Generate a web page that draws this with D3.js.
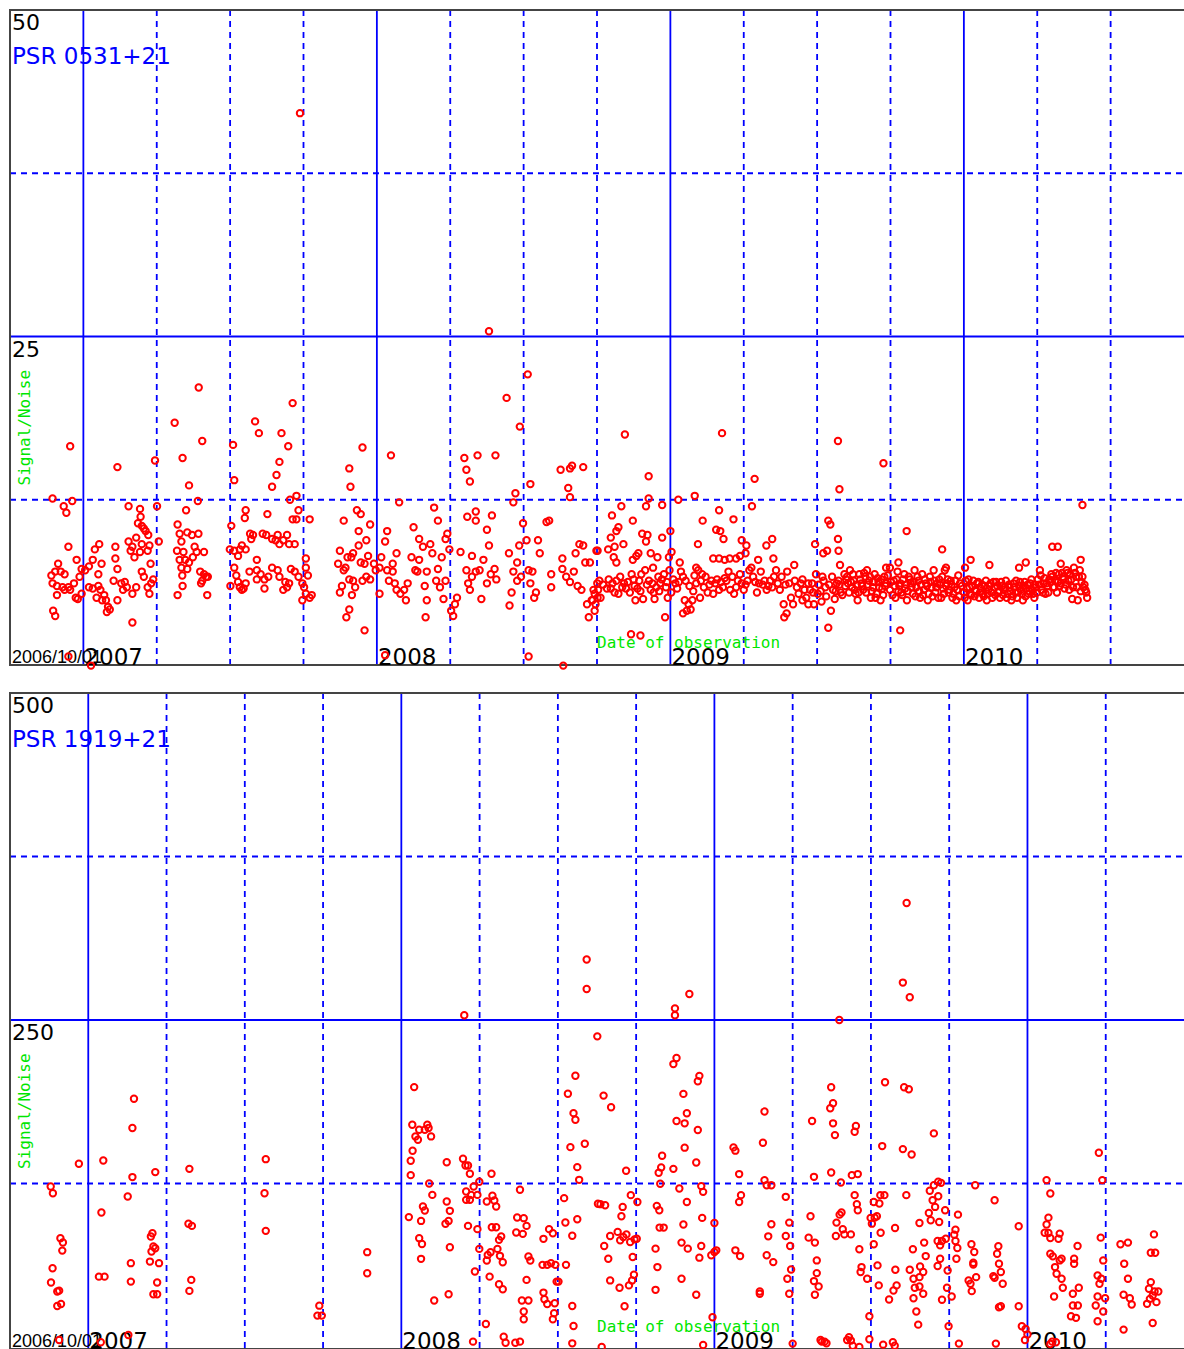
<!DOCTYPE html>
<html>
<head>
<meta charset="utf-8">
<script src="https://cdn.jsdelivr.net/npm/d3@7"></script>
<style>
  body { margin: 0; background: #fff; }
  svg { display: block; }
</style>
</head>
<body>
<script>
// observations as [decimal year, signal/noise]
const psr0531 = [
  [2006.895,12.6],[2006.933,12.0],[2006.942,11.5],[2006.962,12.4],[2006.955,16.6],[2006.949,8.9],[2006.977,7.9],
  [2006.914,7.6],[2006.891,6.7],[2006.904,7.0],[2006.923,7.0],[2006.936,6.8],[2006.895,6.1],[2006.910,5.9],
  [2006.929,5.8],[2006.949,5.8],[2006.968,6.1],[2006.987,6.6],[2006.994,7.2],[2006.910,5.2],[2006.936,5.6],
  [2006.955,5.6],[2006.981,4.9],[2006.974,5.0],[2006.994,5.3],[2006.897,4.0],[2006.904,3.6],[2006.949,0.5],
  [2007.026,-0.2],
  [2007.006,7.1],[2007.019,7.4],[2007.032,7.9],[2007.039,8.7],[2007.054,9.1],[2007.062,7.6],[2007.051,6.8],
  [2007.019,5.8],[2007.032,5.7],[2007.051,5.9],[2007.058,5.6],[2007.071,5.2],[2007.077,4.8],[2007.084,4.3],
  [2007.080,3.9],[2007.090,4.1],[2007.064,4.8],[2007.045,5.0],[2007.103,6.3],[2007.116,7.2],[2007.109,8.0],
  [2007.109,8.9],[2007.116,15.0],[2007.129,6.1],[2007.141,6.2],[2007.135,5.6],[2007.116,4.8],[2007.154,9.3],
  [2007.161,8.6],[2007.167,8.9],[2007.174,8.1],[2007.154,12.0],[2007.167,3.1],[2007.180,9.6],[2007.186,10.7],
  [2007.193,11.8],[2007.195,11.2],[2007.199,10.5],[2007.206,10.3],[2007.212,10.1],[2007.221,9.8],[2007.199,9.1],
  [2007.193,8.5],[2007.219,8.6],[2007.225,9.0],[2007.229,7.6],[2007.199,7.0],[2007.206,6.6],[2007.219,5.8],
  [2007.225,5.3],[2007.238,6.4],[2007.231,6.1],[2007.244,15.5],[2007.251,12.0],[2007.257,9.3],[2007.180,5.8],
  [2007.167,5.3],[2007.148,5.8],
  [2007.311,18.4],[2007.338,15.7],[2007.360,13.6],[2007.350,11.7],[2007.321,10.6],[2007.328,9.9],[2007.319,8.6],
  [2007.334,9.3],[2007.341,8.5],[2007.347,7.9],[2007.360,7.7],[2007.373,8.1],[2007.379,8.9],[2007.392,9.9],
  [2007.354,10.0],[2007.370,9.8],[2007.386,8.5],[2007.411,8.5],[2007.328,7.9],[2007.334,7.3],[2007.354,7.2],
  [2007.337,6.7],[2007.338,5.9],[2007.321,5.2],[2007.393,21.1],[2007.405,17.0],[2007.390,12.4],[2007.398,7.0],
  [2007.411,6.8],[2007.418,6.6],[2007.405,6.3],[2007.424,6.6],[2007.401,6.1],[2007.422,5.2],
  [2007.510,16.7],[2007.514,14.0],[2007.504,10.5],[2007.499,8.7],[2007.514,8.6],[2007.527,8.2],[2007.533,8.7],
  [2007.540,9.0],[2007.553,8.7],[2007.550,11.1],[2007.553,11.7],[2007.572,9.5],[2007.568,9.9],[2007.578,9.8],
  [2007.585,18.5],[2007.598,17.6],[2007.591,7.9],[2007.566,7.0],[2007.514,7.3],[2007.521,6.7],[2007.527,6.2],
  [2007.501,5.9],[2007.533,5.8],[2007.540,5.6],[2007.546,5.7],[2007.553,6.1],[2007.591,7.1],[2007.604,6.8],
  [2007.617,6.4],[2007.630,6.6],[2007.591,6.4],[2007.617,5.7],[2007.643,7.3],[2007.643,13.5],[2007.658,14.4],
  [2007.668,15.4],[2007.675,17.6],[2007.698,16.6],[2007.713,19.9],[2007.704,12.5],[2007.726,12.8],[2007.733,11.7],
  [2007.713,11.0],[2007.726,11.0],[2007.627,11.4],[2007.611,9.9],[2007.623,9.8],[2007.643,9.5],[2007.655,9.4],
  [2007.662,9.8],[2007.668,9.1],[2007.681,9.4],[2007.694,9.8],[2007.701,9.1],[2007.720,9.1],[2007.662,7.1],
  [2007.668,6.6],[2007.688,6.2],[2007.694,5.8],[2007.681,5.6],[2007.707,7.2],[2007.720,7.0],[2007.733,6.6],
  [2007.746,6.1],[2007.758,8.0],[2007.758,7.3],[2007.765,6.7],[2007.771,11.0],[2007.752,5.8],[2007.758,5.3],
  [2007.746,4.8],[2007.771,5.0],[2007.778,5.2],[2007.701,6.1],[2007.738,42.1],
  [2007.868,7.6],[2007.874,8.6],[2007.881,5.9],[2007.874,5.4],[2007.887,10.9],[2007.906,14.9],[2007.910,13.5],
  [2007.896,3.5],[2007.906,4.1],[2007.887,7.1],[2007.893,7.3],[2007.900,8.1],[2007.913,8.1],[2007.919,8.4],
  [2007.906,6.4],[2007.919,6.3],[2007.926,5.8],[2007.915,5.2],[2007.932,11.7],[2007.945,11.4],[2007.951,16.5],
  [2007.938,10.1],[2007.938,9.0],[2007.964,9.4],[2007.977,10.6],[2007.970,8.2],[2007.958,7.6],[2007.945,7.7],
  [2007.951,6.3],[2007.964,6.6],[2007.977,6.4],[2007.990,7.6],[2007.996,7.1],[2007.958,2.5],[2008.009,7.3],
  [2008.028,0.6],[2008.009,5.3],[2008.015,8.1],[2008.028,9.3],[2008.035,10.1],[2008.048,15.9],[2008.076,12.3],
  [2008.035,7.1],[2008.041,6.3],[2008.054,7.6],[2008.067,8.4],[2008.054,7.0],[2008.061,6.1],[2008.067,5.6],
  [2008.080,5.3],[2008.093,5.6],[2008.099,4.8],[2008.105,6.1],[2008.118,8.1],[2008.125,10.4],[2008.131,7.1],
  [2008.138,7.0],[2008.144,7.9],[2008.144,9.5],[2008.157,8.9],[2008.163,5.9],[2008.170,7.0],[2008.170,4.8],
  [2008.166,3.5],[2008.182,9.1],[2008.189,8.4],[2008.195,11.9],[2008.208,10.9],[2008.202,6.3],[2008.208,7.2],
  [2008.215,5.8],[2008.221,8.1],[2008.227,4.9],[2008.234,9.5],[2008.240,9.9],[2008.247,8.7],[2008.234,6.3],
  [2008.253,4.0],[2008.260,3.6],[2008.266,4.5],[2008.273,5.0],[2008.285,8.5],[2008.298,15.7],[2008.305,14.8],
  [2008.317,13.9],[2008.308,11.2],[2008.337,11.6],[2008.337,10.9],[2008.343,15.9],[2008.324,8.2],[2008.305,7.1],
  [2008.311,6.1],[2008.324,6.6],[2008.337,7.0],[2008.350,7.1],[2008.363,7.9],[2008.317,5.6],[2008.356,4.9],
  [2008.375,10.2],[2008.382,9.0],[2008.392,11.3],[2008.375,6.1],[2008.388,6.8],[2008.401,7.2],[2008.407,6.4],
  [2008.404,15.9],[2008.442,20.3],[2008.487,18.1],[2008.514,22.1],[2008.472,13.0],[2008.465,12.3],[2008.498,10.7],
  [2008.510,9.4],[2008.485,9.0],[2008.450,8.4],[2008.478,7.7],[2008.465,7.0],[2008.478,6.3],[2008.491,6.6],
  [2008.459,5.4],[2008.452,4.4],[2008.517,7.1],[2008.523,6.1],[2008.530,7.0],[2008.549,9.4],[2008.555,8.4],
  [2008.542,5.4],[2008.536,5.0],[2008.523,13.7],[2008.517,0.5],[2008.578,10.8],[2008.587,10.9],[2008.594,6.8],
  [2008.594,5.8],[2008.626,14.8],[2008.658,14.9],[2008.665,15.1],[2008.703,15.0],[2008.652,13.4],[2008.658,12.7],
  [2008.632,8.0],[2008.632,7.2],[2008.645,6.6],[2008.658,6.2],[2008.671,7.0],[2008.677,8.4],[2008.690,9.1],
  [2008.703,9.0],[2008.710,7.7],[2008.684,5.9],[2008.697,5.6],[2008.716,4.5],[2008.722,3.5],[2008.735,4.8],
  [2008.748,8.6],[2008.751,6.1],[2008.742,5.3],[2008.635,-0.2],[2008.382,25.4],
  [2008.845,17.5],[2009.176,17.6],[2008.926,14.3],[2009.287,14.1],[2009.571,17.0],[2009.576,13.3],[2009.726,15.3],
  [2008.926,12.6],[2009.027,12.5],[2009.083,12.8],[2008.972,12.1],[2008.917,12.0],[2008.833,12.0],[2009.278,12.0],
  [2009.166,11.7],[2008.801,11.3],[2010.404,12.1],[2009.215,11.0],[2009.110,10.9],[2008.872,10.9],[2009.538,10.9],
  [2009.545,10.6],[2008.823,10.4],[2008.816,10.1],[2009.156,10.2],[2009.170,10.1],[2009.000,10.1],[2009.805,10.1],
  [2008.904,9.9],[2008.922,9.8],[2008.972,9.6],[2008.797,9.6],[2008.917,9.3],[2009.181,9.5],[2009.243,9.4],
  [2009.571,9.5],[2009.347,9.5],[2008.840,9.1],[2009.094,9.1],[2009.493,9.1],[2009.259,9.0],[2009.327,9.0],
  [2008.752,8.6],[2008.788,8.7],[2008.810,8.9],[2009.521,8.4],[2009.534,8.6],[2009.573,8.6],[2009.926,8.7],
  [2010.301,8.9],[2010.320,8.9],[2008.933,8.4],[2008.891,8.4],[2008.884,8.2],[2009.004,8.5],[2008.956,8.1],
  [2008.807,8.1],[2008.995,8.1],[2009.146,8.0],[2009.166,8.0],[2009.185,7.9],[2009.202,8.0],[2009.224,8.0],
  [2009.237,8.2],[2009.256,8.4],[2009.351,8.0],[2008.872,7.9],[2008.816,7.7],[2009.032,7.7],[2009.299,7.9],
  [2010.023,7.9],[2009.777,7.7],[2010.087,7.5],[2010.188,7.3],[2010.211,7.7],[2010.330,7.6],[2010.398,7.9],
  [2009.422,7.5],[2009.578,7.5],[2009.735,7.3],[2009.748,7.3],[2009.939,7.3],[2010.004,7.3],[2008.941,7.3],
  [2009.088,7.3],[2008.726,7.7],[2008.866,2.2],[2008.898,2.1],
  [2008.732,4.8],[2008.742,4.0],[2008.745,4.5],[2008.752,5.0],[2008.754,5.6],[2008.758,6.3],[2008.784,5.7],
  [2008.797,5.7],[2008.810,5.4],[2008.816,6.3],[2008.829,6.6],[2008.842,6.1],[2008.849,5.7],[2008.855,6.2],
  [2008.868,6.8],[2008.875,6.4],[2008.881,4.8],[2008.888,5.7],[2008.894,6.3],[2008.901,6.8],[2008.907,4.9],
  [2008.914,7.1],[2008.927,6.3],[2008.933,5.6],[2008.939,6.1],[2008.946,4.9],[2008.952,5.8],[2008.959,6.6],
  [2008.965,6.1],[2008.978,6.8],[2008.985,5.8],[2008.991,5.0],[2008.997,7.1],[2008.982,3.5],[2009.017,6.1],
  [2009.023,5.7],[2009.036,7.0],[2009.043,6.6],[2009.049,4.8],[2009.056,4.0],[2009.062,4.5],[2009.069,4.1],
  [2009.043,3.8],[2009.075,4.8],[2009.082,6.7],[2009.088,6.1],[2009.095,7.1],[2009.101,5.0],[2009.108,6.8],
  [2009.114,5.8],[2009.140,6.3],[2009.146,5.3],[2009.153,6.1],[2009.166,5.6],[2009.172,6.2],[2009.179,5.8],
  [2009.191,6.3],[2009.198,7.0],[2009.204,5.6],[2009.211,6.6],[2009.217,5.3],[2009.230,6.3],[2009.243,6.1],
  [2009.250,5.6],[2009.263,6.3],[2009.269,7.1],[2009.276,7.3],[2009.282,6.6],[2009.295,5.4],[2009.302,6.1],
  [2009.308,7.0],[2009.321,6.3],[2009.328,5.6],[2009.334,5.9],[2009.340,6.3],[2009.347,5.8],[2009.360,7.1],
  [2009.366,6.1],[2009.373,5.6],[2009.379,6.6],[2009.386,4.5],[2009.388,3.5],[2009.396,3.8],[2009.398,7.0],
  [2009.405,6.1],[2009.411,5.0],[2009.418,4.5],[2009.424,6.3],[2009.431,5.8],[2009.437,5.3],[2009.444,6.1],
  [2009.450,4.8],[2009.457,5.6],[2009.463,5.0],[2009.470,4.5],[2009.476,5.6],[2009.483,6.1],[2009.489,4.5],
  [2009.496,6.8],[2009.502,5.3],[2009.515,4.7],[2009.522,6.3],[2009.528,5.8],[2009.538,2.7],[2009.547,4.0],
  [2009.554,5.6],[2009.560,4.9],[2009.567,6.1],[2009.573,6.3],[2009.580,5.4],[2009.593,6.8],[2009.599,6.4],
  [2009.605,6.1],[2009.612,7.1],[2009.619,5.8],[2009.625,6.3],[2009.631,5.3],[2009.638,4.8],[2009.644,6.8],
  [2009.651,6.1],[2009.657,5.6],[2009.664,6.6],[2009.670,7.1],[2009.677,6.3],[2009.683,5.0],[2009.690,5.8],
  [2009.696,6.8],[2009.703,5.3],[2009.709,6.2],[2009.716,4.8],[2009.722,5.7],[2009.729,6.6],[2009.735,6.1],
  [2009.748,5.6],[2009.761,6.3],[2009.767,5.0],[2009.774,7.0],[2009.780,5.9],[2009.787,5.4],[2009.793,6.4],
  [2009.800,5.7],[2009.806,4.8],[2009.812,6.6],[2009.819,6.1],[2009.826,5.3],[2009.832,7.1],[2009.838,5.8],
  [2009.845,6.3],[2009.851,5.0],[2009.858,6.8],[2009.864,5.6],[2009.871,6.1],[2009.877,4.8],[2009.884,6.6],
  [2009.890,5.8],[2009.897,7.1],[2009.903,5.4],[2009.910,6.1],[2009.916,6.4],[2009.923,5.0],[2009.929,5.7],
  [2009.935,7.1],[2009.942,6.1],[2009.948,5.4],[2009.955,6.3],[2009.961,5.0],[2009.968,5.8],[2009.974,4.8],
  [2009.981,6.7],[2009.987,6.1],[2010.000,5.4],[2010.006,6.3],[2010.013,4.8],[2010.019,5.8],[2010.026,5.2],
  [2010.032,6.3],[2010.039,5.6],[2010.045,6.1],[2010.052,5.0],[2010.058,5.7],[2010.065,5.3],[2010.071,5.9],
  [2010.078,4.8],[2010.084,5.6],[2010.091,6.1],[2010.097,5.0],[2010.104,5.8],[2010.110,6.2],[2010.117,5.4],
  [2010.123,5.0],[2010.130,5.9],[2010.136,5.6],[2010.143,6.3],[2010.149,5.3],[2010.156,5.8],[2010.162,4.8],
  [2010.169,6.1],[2010.175,5.4],[2010.181,5.0],[2010.188,5.9],[2010.194,5.6],[2010.201,4.8],[2010.207,6.2],
  [2010.214,5.7],[2010.220,5.3],[2010.226,6.1],[2010.233,5.6],[2010.240,5.0],[2010.246,5.8],[2010.252,6.4],
  [2010.259,7.1],[2010.265,5.6],[2010.272,6.1],[2010.278,5.3],[2010.285,5.9],[2010.291,6.4],[2010.298,6.8],
  [2010.304,5.8],[2010.311,6.3],[2010.317,5.4],[2010.324,6.8],[2010.330,6.1],[2010.337,6.6],[2010.343,5.7],
  [2010.350,7.1],[2010.356,6.3],[2010.362,6.8],[2010.369,4.9],[2010.375,7.3],[2010.382,6.6],[2010.388,4.8],
  [2010.395,7.1],[2010.401,6.2],[2010.407,5.8],[2010.414,5.6],[2010.420,5.0],[2009.783,2.5],
  [2008.738,5.6],[2008.762,5.0],[2008.771,6.0],[2008.790,6.4],[2008.803,6.1],[2008.823,5.3],[2008.836,5.8],
  [2008.862,5.4],[2008.878,5.9],[2008.898,5.5],[2008.920,6.0],[2008.943,5.4],[2008.962,5.5],[2008.971,6.4],
  [2008.988,6.2],[2009.003,5.4],[2009.010,6.4],[2009.029,6.2],[2009.052,6.3],[2009.065,5.9],[2009.078,5.5],
  [2009.104,6.3],[2009.120,6.6],[2009.127,5.4],[2009.133,6.0],[2009.159,6.4],[2009.185,6.5],[2009.224,5.8],
  [2009.237,6.8],[2009.256,6.0],[2009.289,6.2],[2009.315,6.0],[2009.353,6.6],[2009.392,6.0],[2009.450,6.4],
  [2009.470,6.1],[2009.486,5.4],
  [2009.505,6.0],[2009.512,5.5],[2009.518,6.6],[2009.531,5.1],[2009.541,6.0],[2009.551,6.6],[2009.563,5.5],
  [2009.576,6.0],[2009.586,5.2],[2009.596,5.9],[2009.602,6.6],[2009.609,5.4],[2009.615,6.2],[2009.622,6.8],
  [2009.628,5.6],[2009.634,6.0],[2009.641,5.4],[2009.647,6.4],[2009.654,5.9],[2009.660,6.9],[2009.667,5.4],
  [2009.673,6.0],[2009.680,6.6],[2009.686,5.5],[2009.693,6.2],[2009.699,5.0],[2009.706,6.5],[2009.712,5.8],
  [2009.719,6.4],[2009.725,5.2],[2009.732,5.9],[2009.741,6.7],[2009.751,6.2],[2009.757,5.2],[2009.764,5.9],
  [2009.771,6.4],[2009.777,5.5],[2009.784,6.1],[2009.790,5.2],[2009.797,6.8],[2009.803,6.0],[2009.809,5.5],
  [2009.816,6.4],[2009.822,5.8],[2009.829,6.2],[2009.835,5.1],[2009.842,6.6],[2009.848,5.5],[2009.854,6.0],
  [2009.861,5.2],[2009.867,6.4],[2009.874,5.9],[2009.880,5.3],[2009.887,6.2],[2009.893,5.1],[2009.900,6.3],
  [2009.906,5.8],[2009.913,5.0],[2009.919,6.0],[2009.926,6.6],[2009.932,5.3],[2009.939,5.9],[2009.945,6.4],
  [2009.951,5.6],[2009.958,6.0],[2009.964,5.3],[2009.971,6.3],[2009.977,5.6],[2009.984,5.1],[2009.993,5.9],
  [2010.003,5.0],[2010.010,5.7],[2010.016,6.4],[2010.023,5.3],[2010.029,5.9],[2010.036,5.1],[2010.042,5.5],
  [2010.049,6.2],[2010.055,5.4],[2010.062,6.0],[2010.068,5.1],[2010.075,6.3],[2010.081,5.3],[2010.088,5.9],
  [2010.094,5.4],[2010.101,6.2],[2010.107,5.2],[2010.114,5.9],[2010.120,5.5],[2010.127,6.2],[2010.133,5.2],
  [2010.140,5.8],[2010.146,5.0],[2010.153,6.0],[2010.159,5.5],[2010.166,5.1],[2010.172,5.8],[2010.178,6.3],
  [2010.185,5.4],[2010.191,6.2],[2010.198,5.3],[2010.204,5.9],[2010.210,5.1],[2010.217,6.0],[2010.223,5.5],
  [2010.230,6.4],[2010.236,5.3],[2010.243,6.0],[2010.249,5.4],[2010.256,6.0],[2010.262,6.7],[2010.269,5.4],
  [2010.275,6.5],[2010.282,6.1],[2010.288,5.4],[2010.295,6.2],[2010.301,6.6],[2010.308,5.8],[2010.314,6.9],
  [2010.321,6.2],[2010.327,5.9],[2010.334,6.9],[2010.340,6.4],[2010.347,6.0],[2010.353,6.9],[2010.359,5.6],
  [2010.366,6.4],[2010.372,5.8],[2010.379,6.9],[2010.385,5.8],[2010.392,6.6],[2010.398,5.5],[2010.404,6.6],
  [2010.411,6.0],[2010.417,5.4]
];

const psr1919 = [
  [2006.880,122.7],[2006.887,117.6],[2006.911,83.2],[2006.919,79.9],[2006.917,73.7],[2006.886,60.2],[2006.881,49.3],
  [2006.901,42.4],[2006.907,43.1],[2006.901,31.4],[2006.913,32.9],[2006.907,5.4],[2006.970,140.1],[2007.048,142.6],
  [2007.042,102.8],[2007.034,53.8],[2007.052,53.8],[2007.040,3.6],[2007.146,189.8],[2007.141,167.4],[2007.141,129.9],
  [2007.126,115.1],[2007.136,64.1],[2007.136,50.0],[2007.128,9.2],[2007.214,133.7],[2007.200,84.5],[2007.205,87.0],
  [2007.208,76.8],[2007.202,73.0],[2007.214,75.5],[2007.197,65.3],[2007.226,64.1],[2007.220,49.3],[2007.208,40.3],
  [2007.220,40.3],[2007.323,136.2],[2007.320,94.2],[2007.331,92.6],[2007.329,51.3],[2007.323,42.9],[2007.567,143.6],
  [2007.563,117.6],[2007.567,88.8],[2007.738,31.6],[2007.732,24.0],[2007.746,24.0],[2007.891,72.5],[2007.891,56.4],
  [2008.041,198.7],[2008.035,169.9],[2008.057,166.1],[2008.045,161.0],[2008.053,158.4],[2008.075,166.1],[2008.083,169.9],
  [2008.087,167.4],[2008.095,161.0],[2008.036,150.0],[2008.030,142.4],[2008.030,131.4],[2008.089,125.0],[2008.099,116.3],
  [2008.024,99.3],[2008.063,96.4],[2008.069,107.4],[2008.075,104.4],[2008.057,83.2],[2008.066,78.8],[2008.063,67.4],
  [2008.105,35.5],[2008.145,141.3],[2008.145,111.2],[2008.155,104.1],[2008.151,96.4],[2008.141,94.2],[2008.155,76.3],
  [2008.151,40.3],[2008.197,143.9],[2008.205,138.8],[2008.213,138.8],[2008.219,132.4],[2008.249,126.3],[2008.231,122.7],
  [2008.207,118.9],[2008.223,116.3],[2008.243,116.3],[2008.207,112.5],[2008.219,112.5],[2008.213,92.6],[2008.243,90.1],
  [2008.249,75.0],[2008.235,57.7],[2008.273,111.2],[2008.288,132.4],[2008.291,115.6],[2008.297,112.0],[2008.303,107.4],
  [2008.289,91.6],[2008.303,91.6],[2008.319,84.5],[2008.312,81.9],[2008.307,75.0],[2008.285,72.5],[2008.276,70.4],
  [2008.273,66.1],[2008.315,69.7],[2008.324,64.8],[2008.282,53.8],[2008.312,48.0],[2008.324,44.2],[2008.270,17.6],
  [2008.229,4.1],[2008.327,7.9],[2008.333,3.3],[2008.364,3.3],[2008.379,4.1],[2008.370,99.0],[2008.391,98.5],
  [2008.400,92.6],[2008.367,87.5],[2008.388,86.5],[2008.379,120.2],[2008.406,69.2],[2008.412,66.1],[2008.400,51.3],
  [2008.385,35.5],[2008.406,35.5],[2008.391,27.1],[2008.391,21.2],[2008.454,82.7],[2008.472,90.1],[2008.484,87.0],
  [2008.451,62.8],[2008.466,62.8],[2008.478,64.1],[2008.492,62.8],[2008.526,62.8],[2008.496,50.0],[2008.502,50.0],
  [2008.454,41.6],[2008.457,36.5],[2008.466,32.9],[2008.490,33.4],[2008.488,25.8],[2008.484,21.2],[2008.520,113.8],
  [2008.524,95.2],[2008.546,85.0],[2008.562,97.7],[2008.532,193.6],[2008.556,207.4],[2008.550,178.8],[2008.556,173.7],
  [2008.540,152.8],[2008.586,155.4],[2008.562,137.5],[2008.568,127.8],[2008.546,31.4],[2008.550,16.1],[2008.546,2.8],
  [2008.626,237.5],[2008.628,109.5],[2008.201,253.6],[2008.592,296.2],[2008.592,273.7],
  [2008.646,192.2],[2008.670,183.3],[2008.718,134.7],[2008.733,116.1],[2008.754,110.9],[2008.636,109.2],[2008.651,108.4],
  [2008.707,107.1],[2008.703,100.0],[2008.691,88.0],[2008.667,84.9],[2008.699,81.6],[2008.709,84.1],[2008.719,86.1],
  [2008.731,80.3],[2008.745,82.3],[2008.752,82.8],[2008.648,77.2],[2008.661,67.5],[2008.667,50.9],[2008.697,45.3],
  [2008.713,31.2],[2008.727,47.1],[2008.737,50.9],[2008.743,55.2],[2008.739,68.8],[2008.640,0.0],
  [2008.874,258.9],[2008.874,253.6],[2008.920,269.9],[2008.869,216.3],[2008.879,220.9],[2008.901,193.5],[2008.952,207.3],
  [2008.947,203.2],[2008.879,172.8],[2008.905,171.0],[2008.912,178.7],[2008.905,152.4],[2008.869,136.2],[2008.822,133.2],
  [2008.830,137.3],[2008.833,146.2],[2008.827,124.8],[2008.888,121.2],[2008.942,141.1],[2008.947,165.9],[2008.958,123.0],
  [2008.964,118.6],[2008.912,110.9],[2008.816,107.9],[2008.824,104.6],[2008.825,91.3],[2008.838,91.3],[2008.901,93.6],
  [2008.961,98.7],[2008.895,79.8],[2008.915,75.2],[2008.958,77.2],[2008.952,68.3],[2008.812,75.2],[2008.818,61.1],
  [2008.895,52.2],[2008.812,43.7],[2008.942,39.9],[2008.990,70.1],[2009.000,72.6],[2009.006,73.9],[2009.000,94.8],
  [2008.994,22.8],[2008.964,1.5],
  [2009.061,152.6],[2009.067,150.1],[2009.079,132.2],[2009.085,116.1],[2009.079,110.9],[2009.067,73.9],[2009.082,69.5],
  [2009.160,180.0],[2009.155,156.2],[2009.160,127.6],[2009.167,123.7],[2009.182,123.7],[2009.228,114.8],[2009.182,93.8],
  [2009.172,84.6],[2009.167,70.1],[2009.188,64.9],[2009.145,42.4],[2009.145,40.7],[2009.239,95.1],[2009.242,77.2],
  [2009.228,84.9],[2009.245,59.3],[2009.233,52.2],[2009.239,40.7],[2009.250,2.6],
  [2009.312,172.8],[2009.318,130.1],[2009.307,100.0],[2009.301,83.6],[2009.321,79.8],[2009.327,66.2],[2009.327,56.5],
  [2009.333,46.3],[2009.318,50.4],[2009.321,39.9],[2009.373,198.6],[2009.379,186.3],[2009.370,182.5],[2009.379,171.0],
  [2009.385,162.0],[2009.373,133.4],[2009.404,125.8],[2009.406,102.8],[2009.400,101.2],[2009.390,95.1],[2009.388,84.9],
  [2009.410,90.0],[2009.415,86.1],[2009.436,86.1],[2009.448,164.6],[2009.452,169.0],[2009.439,131.4],[2009.458,132.2],
  [2009.448,116.1],[2009.455,109.2],[2009.458,104.6],[2009.463,74.7],[2009.470,61.1],[2009.467,57.3],[2009.488,52.2],
  [2009.495,23.5],[2009.495,5.9],[2009.343,4.1],[2009.352,4.1],[2009.358,2.8],[2009.339,5.4],[2009.424,5.4],
  [2009.436,4.9],[2009.430,7.4],[2009.442,1.0],[2009.463,0.0],[2009.399,250.0],
  [2009.545,202.4],[2009.536,153.6],[2009.530,116.1],[2009.543,116.1],[2009.509,110.9],[2009.527,109.7],[2009.499,98.7],
  [2009.512,98.9],[2009.519,100.0],[2009.503,94.3],[2009.531,87.4],[2009.509,78.5],[2009.521,62.4],[2009.525,47.1],
  [2009.577,91.0],[2009.578,59.1],[2009.582,47.1],[2009.558,36.3],[2009.572,43.2],[2009.539,1.8],[2009.570,3.6],
  [2009.576,1.0],
  [2009.614,339.4],[2009.602,278.6],[2009.624,267.4],
  [2009.606,198.6],[2009.621,197.1],[2009.602,151.3],[2009.630,147.2],[2009.613,116.1],[2009.655,94.8],[2009.634,74.7],
  [2009.670,79.8],[2009.675,69.5],[2009.624,59.1],[2009.657,61.6],[2009.667,57.3],[2009.655,53.4],[2009.636,52.2],
  [2009.640,45.3],[2009.655,46.3],[2009.667,40.7],[2009.636,37.3],[2009.645,27.1],[2009.651,17.1],[2009.701,163.3],
  [2009.688,119.4],[2009.701,123.7],[2009.715,126.3],[2009.724,125.5],[2009.715,115.3],[2009.697,112.2],[2009.705,107.1],
  [2009.685,102.5],[2009.691,96.9],[2009.737,104.6],[2009.718,95.6],[2009.713,81.0],[2009.727,81.0],[2009.739,82.8],
  [2009.721,77.7],[2009.721,67.5],[2009.713,61.9],[2009.745,58.5],[2009.743,45.3],[2009.727,36.1],[2009.758,38.6],
  [2009.748,15.9],[2009.778,101.2],[2009.770,89.7],[2009.766,85.9],[2009.770,81.0],[2009.776,75.7],[2009.773,67.5],
  [2009.821,78.5],[2009.830,72.6],[2009.827,64.4],[2009.827,63.1],[2009.836,53.4],[2009.812,50.9],[2009.818,48.3],
  [2009.822,42.7],[2009.781,2.6],[2009.833,123.7],[2009.895,112.2],[2009.907,77.0],[2009.903,71.3],[2009.909,63.7],
  [2009.915,57.3],[2009.921,48.3],[2009.891,54.2],[2009.895,52.9],[2009.909,30.4],[2009.915,31.2],[2009.899,2.6],
  [2009.972,92.3],[2009.972,31.2],[2009.982,15.9],[2009.994,13.8],[2010.000,9.5],[2009.992,5.4],[2010.079,4.1],
  [2010.091,3.6],[2010.073,2.3],
  [2010.061,127.6],[2010.073,117.3],[2010.067,98.9],[2010.061,93.6],[2010.055,87.4],[2010.067,87.2],[2010.073,83.3],
  [2010.103,86.7],[2010.099,82.8],[2010.073,71.3],[2010.081,69.3],[2010.109,67.5],[2010.103,66.2],[2010.088,61.1],
  [2010.093,56.0],[2010.109,52.2],[2010.113,45.3],[2010.085,38.6],[2010.145,40.7],[2010.164,45.3],[2010.149,67.5],
  [2010.149,63.7],[2010.160,77.2],[2010.145,31.7],[2010.161,31.7],[2010.139,23.5],[2010.155,22.3],[2010.228,148.5],
  [2010.239,127.6],[2010.234,83.6],[2010.242,66.2],[2010.224,54.7],[2010.236,52.2],[2010.230,48.3],[2010.224,38.6],
  [2010.248,37.3],[2010.218,31.7],[2010.242,27.1],[2010.224,19.7],[2010.297,78.5],[2010.321,79.8],[2010.309,63.7],
  [2010.321,52.2],[2010.307,39.9],[2010.327,37.3],[2010.333,32.5],[2010.307,13.3],[2010.404,86.1],[2010.394,72.1],
  [2010.408,72.1],[2010.394,49.6],[2010.388,44.5],[2010.406,42.4],[2010.418,42.4],[2010.400,39.4],[2010.391,36.8],
  [2010.412,34.3],[2010.382,33.0],[2010.400,18.4]
];

const yearLines = [2007, 2008, 2009, 2010];
const quarterLinesTop = [2007.25, 2007.5, 2007.75, 2008.25, 2008.5, 2008.75, 2009.25, 2009.5, 2009.75, 2010.25, 2010.5];
const quarterLinesBottom = [2007.25, 2007.5, 2007.75, 2008.25, 2008.5, 2008.75, 2009.25, 2009.5, 2009.75, 2010.25];
const startLabel = "2006/10/01";

const panels = [
  { name: "PSR 0531+21", data: psr0531, xEnd: 2010.75, quarters: quarterLinesTop,
    yMax: 50, major: [25], minor: [12.5, 37.5], labels: [50, 25], top: 10, bottom: 663 },
  { name: "PSR 1919+21", data: psr1919, xEnd: 2010.5, quarters: quarterLinesBottom,
    yMax: 500, major: [250], minor: [125, 375], labels: [500, 250], top: 693, bottom: 1347 }
];

const width = 1184, height = 1349;
const blue = "#0000ff", green = "#00e600";

const svg = d3.select("body").append("svg")
    .attr("width", width)
    .attr("height", height);

panels.forEach(p => {
  const x = d3.scaleLinear().domain([2006.75, p.xEnd]).range([10, 1184]);
  const y = d3.scaleLinear().domain([0, p.yMax]).range([p.bottom, p.top]);
  const g = svg.append("g");
  const frameBottom = p.top === 10 ? 665 : 1349;

  // grid
  g.selectAll(".vq").data(p.quarters).enter().append("line")
      .attr("x1", d => x(d)).attr("x2", d => x(d))
      .attr("y1", p.top).attr("y2", frameBottom)
      .attr("stroke", blue).attr("stroke-width", 1.8)
      .attr("stroke-dasharray", "6,5");

  g.selectAll(".hq").data(p.minor).enter().append("line")
      .attr("x1", 10).attr("x2", width)
      .attr("y1", d => y(d)).attr("y2", d => y(d))
      .attr("stroke", blue).attr("stroke-width", 1.8)
      .attr("stroke-dasharray", "6,5");

  g.selectAll(".vy").data(yearLines).enter().append("line")
      .attr("x1", d => x(d)).attr("x2", d => x(d))
      .attr("y1", p.top).attr("y2", frameBottom)
      .attr("stroke", blue).attr("stroke-width", 1.8);

  g.selectAll(".hy").data(p.major).enter().append("line")
      .attr("x1", 10).attr("x2", width)
      .attr("y1", d => y(d)).attr("y2", d => y(d))
      .attr("stroke", blue).attr("stroke-width", 1.8);

  // frame
  g.append("rect")
      .attr("x", 10).attr("y", p.top)
      .attr("width", width + 10).attr("height", frameBottom - p.top)
      .attr("fill", "none").attr("stroke", "#444").attr("stroke-width", 2);

  // texts
  g.selectAll(".ylab").data(p.labels).enter().append("text")
      .attr("x", 12).attr("y", d => y(d) + 20)
      .style("font-family", "DejaVu Sans").style("font-size", "22px")
      .attr("fill", "#000")
      .text(d => d);

  g.append("text")
      .attr("x", 12).attr("y", p.top + 54)
      .style("font-family", "DejaVu Sans").style("font-size", "23px")
      .attr("fill", blue)
      .text(p.name);

  g.append("text")
      .attr("transform", `translate(30,${y(p.yMax / 2) + 149}) rotate(-90)`)
      .style("font-family", "DejaVu Sans Mono").style("font-size", "16px")
      .attr("fill", green)
      .text("Signal/Noise");

  g.append("text")
      .attr("x", 597).attr("y", frameBottom - 17)
      .style("font-family", "DejaVu Sans Mono").style("font-size", "16px")
      .attr("fill", green)
      .text("Date of observation");

  g.append("text")
      .attr("x", 12).attr("y", frameBottom - 2)
      .style("font-family", "Liberation Sans").style("font-size", "18px")
      .attr("fill", "#000")
      .text(startLabel);

  g.selectAll(".year").data(yearLines).enter().append("text")
      .attr("x", d => x(d) + 1).attr("y", frameBottom)
      .style("font-family", "DejaVu Sans").style("font-size", "23px")
      .attr("fill", "#000")
      .text(d => d);

  // observations
  g.selectAll("circle").data(p.data).enter().append("circle")
      .attr("cx", d => x(d[0]))
      .attr("cy", d => y(d[1]))
      .attr("r", 3.2)
      .attr("fill", "none")
      .attr("stroke", "#ff0000")
      .attr("stroke-width", 2);
});
</script>
</body>
</html>
